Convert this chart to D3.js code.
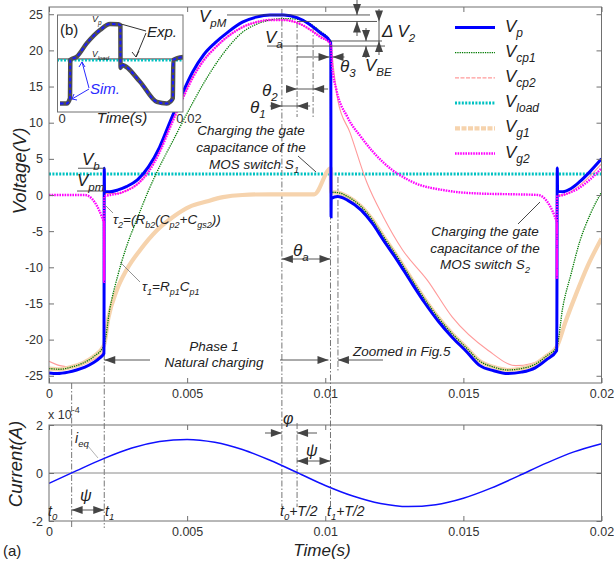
<!DOCTYPE html>
<html>
<head>
<meta charset="utf-8">
<script src="https://cdn.jsdelivr.net/npm/d3@7"></script>
<style>
  body { margin: 0; background: #fff; }
  svg { display: block; }
</style>
</head>
<body>
<div id="chart"></div>
<script>
// ---- values ----
const timeTicks = [0, 0.005, 0.01, 0.015, 0.02];
const voltTicks = [-25, -20, -15, -10, -5, 0, 5, 10, 15, 20, 25];
const currTicks = [-2, 0, 2];

// V_p
const tVp = [0, 0.0003, 0.0007, 0.001, 0.0013, 0.0016, 0.00185, 0.00199, 0.002, 0.00201, 0.0022, 0.0025, 0.0028, 0.0032, 0.0036, 0.004, 0.0044, 0.0048, 0.0052, 0.0056, 0.006, 0.0065, 0.007, 0.0075, 0.008, 0.0085, 0.009, 0.0094, 0.0098, 0.0102, 0.01021, 0.010215, 0.01045, 0.0108, 0.0113, 0.0117, 0.0121, 0.0126, 0.0131, 0.0136, 0.0141, 0.0146, 0.0151, 0.0156, 0.0161, 0.0166, 0.0171, 0.0176, 0.018, 0.01838, 0.0184, 0.01841, 0.0186, 0.0189, 0.0192, 0.0196, 0.02];
const vVp = [-24.6, -24.7, -24.5, -24.2, -23.8, -23.2, -22.5, -21.9, 3.7, 0.5, 0.45, 0.7, 1.15, 2.1, 3.9, 6.6, 10.3, 13.8, 17.0, 19.4, 21.0, 22.6, 23.9, 24.6, 24.9, 24.9, 24.5, 23.7, 22.5, 21.1, -3.0, -0.5, -0.2, -0.7, -2.1, -3.9, -6.2, -9.0, -12.0, -14.9, -17.5, -19.7, -21.6, -23.6, -24.3, -24.7, -24.5, -23.9, -22.8, -21.5, 3.75, 0.5, 0.46, 0.9, 1.8, 3.3, 5.0];

// V_cp1
const tCp1 = [0, 0.0004, 0.0008, 0.0012, 0.0016, 0.00199, 0.0022, 0.0025, 0.0028, 0.0032, 0.0036, 0.004, 0.0045, 0.005, 0.0055, 0.006, 0.0065, 0.007, 0.0075, 0.008, 0.0085, 0.009, 0.0094, 0.0098, 0.0102, 0.01022, 0.0105, 0.0108, 0.0113, 0.0117, 0.0121, 0.0126, 0.0131, 0.0136, 0.0141, 0.0146, 0.0151, 0.0156, 0.0161, 0.0166, 0.0171, 0.0176, 0.018, 0.01838, 0.0186, 0.0189, 0.0192, 0.0196, 0.02];
const vCp1 = [-24.0, -24.1, -23.8, -23.3, -22.4, -20.8, -15.8, -11.0, -7.2, -3.2, 0.6, 3.9, 7.6, 11.3, 14.8, 17.9, 20.5, 22.5, 23.6, 24.2, 24.4, 24.3, 23.8, 22.7, 21.2, 0.4, 0.3, -0.2, -1.6, -3.4, -5.7, -8.5, -11.5, -14.4, -17.0, -19.2, -21.1, -23.0, -23.8, -24.2, -24.0, -23.4, -22.3, -21.0, -15.5, -10.9, -6.6, -2.6, 0.4];

// V_cp2
const tCp2 = [0, 0.0004, 0.0008, 0.0012, 0.0016, 0.00199, 0.002, 0.0025, 0.0028, 0.0032, 0.0036, 0.004, 0.0044, 0.0048, 0.0052, 0.0056, 0.006, 0.0065, 0.007, 0.0075, 0.008, 0.0085, 0.009, 0.0094, 0.0098, 0.0102, 0.0103, 0.01045, 0.0109, 0.0115, 0.0121, 0.0128, 0.0137, 0.0146, 0.0159, 0.0169, 0.018, 0.01837, 0.01839, 0.0186, 0.0192, 0.02];
const vCp2 = [-23.0, -23.6, -23.8, -23.5, -22.8, -21.6, 0.2, 0.2, 0.6, 1.5, 3.3, 6.0, 9.6, 13.1, 16.3, 18.7, 20.3, 22.0, 23.2, 23.9, 24.2, 24.2, 23.8, 23.0, 22.0, 20.8, 17.5, 13.2, 8.6, 1.8, -3.0, -7.6, -11.8, -16.9, -21.5, -23.6, -22.5, -21.1, 0.0, 0.0, 1.3, 4.3];

// V_load
const tLoad = [0, 0.02];
const vLoad = [2.9, 2.9];

// V_g1
const tG1 = [0, 0.0004, 0.0008, 0.0012, 0.0016, 0.00199, 0.00215, 0.00245, 0.0028, 0.0033, 0.0039, 0.0045, 0.0051, 0.0057, 0.0063, 0.007, 0.008, 0.0096, 0.0102, 0.01021, 0.0105, 0.0108, 0.0113, 0.0117, 0.0121, 0.0126, 0.0131, 0.0136, 0.0141, 0.0146, 0.0151, 0.0156, 0.0161, 0.0166, 0.0171, 0.0176, 0.018, 0.01838, 0.0187, 0.0191, 0.0195, 0.02];
const vG1 = [-24.0, -24.1, -23.8, -23.3, -22.4, -20.8, -17.0, -13.2, -10.4, -7.6, -4.9, -3.0, -1.6, -0.9, -0.3, 0.0, 0.1, 0.1, 3.7, 0.4, 0.3, -0.2, -1.6, -3.4, -5.7, -8.5, -11.5, -14.4, -17.0, -19.2, -21.1, -23.0, -23.8, -24.2, -24.0, -23.4, -22.3, -21.0, -17.5, -13.5, -9.8, -6.0];

// V_g2
const tG2 = [0, 0.0013, 0.00199, 0.001995, 0.002, 0.0022, 0.0025, 0.0028, 0.0032, 0.0036, 0.004, 0.0044, 0.0048, 0.0052, 0.0056, 0.006, 0.0065, 0.007, 0.0075, 0.008, 0.0085, 0.009, 0.0094, 0.0098, 0.0102, 0.01025, 0.0104, 0.0108, 0.0113, 0.0121, 0.0131, 0.0144, 0.0156, 0.0168, 0.0177, 0.01838, 0.018385, 0.01839, 0.0186, 0.0189, 0.0192, 0.0196, 0.02];
const vG2 = [0, 0, -3.8, -12.0, -0.2, 0.0, 0.2, 0.6, 1.5, 3.2, 5.9, 9.5, 13.0, 16.2, 18.6, 20.3, 22.0, 23.2, 23.9, 24.2, 24.2, 23.8, 23.0, 21.9, 20.9, 17.8, 14.6, 10.8, 8.0, 4.5, 1.9, 0.6, 0.2, 0.1, 0.0, -3.7, -11.6, -0.2, 0.0, 0.4, 1.0, 2.2, 3.7];

// i_eq (x 1e-4 A)
const tCur = [0, 0.001, 0.002, 0.003, 0.004, 0.005, 0.006, 0.007, 0.008, 0.009, 0.01, 0.011, 0.012, 0.013, 0.014, 0.015, 0.016, 0.017, 0.018, 0.019, 0.02];
const iCur = [-0.43, 0.10, 0.61, 1.04, 1.31, 1.40, 1.28, 0.98, 0.53, 0.01, -0.52, -0.96, -1.27, -1.40, -1.32, -1.05, -0.63, -0.12, 0.41, 0.88, 1.22];

// inset (b): measured V_p vs simulation
const tInset = [0, 0.00107, 0.0016, 0.00165, 0.00267, 0.00427, 0.0064, 0.008, 0.0093, 0.00966, 0.00968, 0.0097, 0.00987, 0.0128, 0.0155, 0.0171, 0.0176, 0.01805, 0.01813, 0.0197];
const vInset = [-25, -25, -21.7, 2.4, 4.4, 12.8, 21.2, 25, 24.8, 24.0, 1.5, -2.6, -0.8, -11.3, -24.0, -25, -24, -21.7, 2.4, 4.2];
const insetLoad = [3.0, 2.2]; // exp, sim

const FONT = '"Liberation Sans", Arial, Helvetica, sans-serif';
const W = 614, H = 562;

const svg = d3.select('#chart').append('svg')
    .attr('width', W).attr('height', H)
    .style('font-family', FONT);
svg.append('rect').attr('width', W).attr('height', H).attr('fill', '#fff');

const x = d3.scaleLinear().domain([0, 0.02]).range([49, 601.5]);
const y = d3.scaleLinear().domain([-26, 26]).range([383, 7]);
const yc = d3.scaleLinear().domain([-2, 2]).range([521, 425]);

const frameCol = '#707070';
const annCol = '#444';

// clip for the voltage plot
svg.append('clipPath').attr('id', 'clipV')
    .append('rect').attr('x', 49).attr('y', 7).attr('width', 552.5).attr('height', 376);
svg.append('clipPath').attr('id', 'clipI')
    .append('rect').attr('x', 49).attr('y', 425).attr('width', 552.5).attr('height', 96);

// axes helper (MATLAB style box, ticks inward)
function boxAxes(sy, ticks) {
    const [yb, yt] = sy.range();
    const style = g => {
        g.select('.domain').remove();
        g.selectAll('line').attr('stroke', frameCol);
        g.attr('font-size', 12.5).attr('font-family', FONT);
        g.selectAll('text').attr('fill', '#333');
    };
    svg.append('g').attr('transform', `translate(0,${yb})`)
        .call(d3.axisBottom(x).tickValues(timeTicks).tickSize(-5).tickPadding(6).tickFormat(d => d))
        .call(style);
    svg.append('g').attr('transform', `translate(0,${yt})`)
        .call(d3.axisTop(x).tickValues(timeTicks).tickSize(-5).tickFormat(''))
        .call(style);
    svg.append('g').attr('transform', `translate(${x.range()[0]},0)`)
        .call(d3.axisLeft(sy).tickValues(ticks).tickSize(-5).tickPadding(6).tickFormat(d => d))
        .call(style);
    svg.append('g').attr('transform', `translate(${x.range()[1]},0)`)
        .call(d3.axisRight(sy).tickValues(ticks).tickSize(-5).tickFormat(''))
        .call(style);
    svg.append('rect')
        .attr('x', x.range()[0]).attr('y', yt)
        .attr('width', x.range()[1] - x.range()[0]).attr('height', yb - yt)
        .attr('fill', 'none').attr('stroke', frameCol).attr('stroke-width', 1);
}

// rich text with sub/superscripts
function rich(g, px, py, parts, size, opts = {}) {
    const t = g.append('text')
        .attr('x', px).attr('y', py)
        .attr('font-size', size)
        .attr('font-style', opts.italic === false ? 'normal' : 'italic')
        .attr('text-anchor', opts.anchor || 'start')
        .attr('fill', opts.fill || '#222');
    let shift = 0;
    const subSize = opts.sub || size * 0.68;
    parts.forEach(p => {
        if (typeof p === 'string') {
            t.append('tspan').attr('dy', -shift).text(p);
            shift = 0;
        } else if (p.sub !== undefined) {
            const d = size * 0.3;
            t.append('tspan').attr('dy', d - shift).attr('font-size', subSize).text(p.sub);
            shift = d;
        } else if (p.sup !== undefined) {
            const d = -size * 0.45;
            t.append('tspan').attr('dy', d - shift).attr('font-size', subSize).text(p.sup);
            shift = d;
        }
    });
    return t;
}

const zipP = (ts, vs) => d3.zip(ts, vs);
const lineV = d3.line().x(d => x(d[0])).y(d => y(d[1])).curve(d3.curveMonotoneX);

const seriesList = [
    { key: 'load', t: tLoad, v: vLoad, color: '#00c2c2', width: 3, dash: '2 1.4', legDash: '2 1.4' },
    { key: 'cp2', t: tCp2, v: vCp2, color: '#ff9a9a', width: 1.1, dash: null, legDash: '4 1.5' },
    { key: 'g1', t: tG1, v: vG1, color: '#f6d3ad', width: 4.2, dash: null, legDash: '5 1.5' },
    { key: 'cp1', t: tCp1, v: vCp1, color: '#007a00', width: 1.3, dash: '1.3 1', legDash: '1.3 1' },
    { key: 'p', t: tVp, v: vVp, color: '#0000ff', width: 3, dash: null, legDash: null },
    { key: 'g2', t: tG2, v: vG2, color: '#ff00ff', width: 2.4, dash: '1.6 1', legDash: '1.6 1' }
];

// dash-dot guide lines (under the curves)
const guides = svg.append('g');
function vdash(t, y1, y2) {
    guides.append('line')
        .attr('x1', x(t)).attr('x2', x(t)).attr('y1', y1).attr('y2', y2)
        .attr('stroke', '#666').attr('stroke-width', 0.9)
        .attr('stroke-dasharray', '6 2 1.5 2');
}
vdash(0.00082, 383, 528);
vdash(0.002, 354, 528);
vdash(0.00843, 9, 507);
vdash(0.00898, 22, 117);
vdash(0.00898, 423, 507);
vdash(0.00956, 27, 117);
vdash(0.01019, 41, 507);
vdash(0.01046, 177, 372);

const plotV = svg.append('g').attr('clip-path', 'url(#clipV)');
seriesList.forEach(s => {
    plotV.append('path')
        .datum(zipP(s.t, s.v))
        .attr('fill', 'none')
        .attr('stroke', s.color)
        .attr('stroke-width', s.width)
        .attr('stroke-dasharray', s.dash)
        .attr('d', lineV);
});

boxAxes(y, voltTicks);

// current plot
const plotI = svg.append('g').attr('clip-path', 'url(#clipI)');
plotI.append('line')
    .attr('x1', x(0)).attr('x2', x(0.02)).attr('y1', yc(0)).attr('y2', yc(0))
    .attr('stroke', '#8a8a8a').attr('stroke-width', 1);
plotI.append('path')
    .datum(zipP(tCur, iCur))
    .attr('fill', 'none').attr('stroke', '#1010ff').attr('stroke-width', 1.5)
    .attr('d', d3.line().x(d => x(d[0])).y(d => yc(d[1])).curve(d3.curveMonotoneX));
boxAxes(yc, currTicks);

// axis titles
svg.append('text').attr('transform', 'translate(26,171) rotate(-90)')
    .attr('text-anchor', 'middle').attr('font-size', 18.5).attr('font-style', 'italic')
    .attr('fill', '#222').text('Voltage(V)');
svg.append('text').attr('transform', 'translate(22,464) rotate(-90)')
    .attr('text-anchor', 'middle').attr('font-size', 18.5).attr('font-style', 'italic')
    .attr('fill', '#222').text('Current(A)');
svg.append('text').attr('x', 322).attr('y', 556)
    .attr('text-anchor', 'middle').attr('font-size', 17).attr('font-style', 'italic')
    .attr('fill', '#222').text('Time(s)');
svg.append('text').attr('x', 3).attr('y', 556)
    .attr('font-size', 15).attr('fill', '#222').text('(a)');
rich(svg, 48, 419, ['x 10', { sup: '-4' }], 12.5, { italic: false, fill: '#333', sub: 9 });

// legend
const legend = svg.append('g');
const legendOrder = ['p', 'cp1', 'cp2', 'load', 'g1', 'g2'];
legendOrder.forEach((k, i) => {
    const s = seriesList.find(d => d.key === k);
    const ly = 27.5 + i * 25.2;
    legend.append('line')
        .attr('x1', 455).attr('x2', 495).attr('y1', ly).attr('y2', ly)
        .attr('stroke', s.color).attr('stroke-width', s.width)
        .attr('stroke-dasharray', s.legDash);
    rich(legend, 505, ly + 4, ['V', { sub: k }], 17, { sub: 12 });
});

// annotations
const ann = svg.append('g');
function seg(x1, y1, x2, y2, col) {
    ann.append('line').attr('x1', x1).attr('y1', y1).attr('x2', x2).attr('y2', y2)
        .attr('stroke', col || annCol).attr('stroke-width', 0.9);
}
function head(px, py, dir, col) {
    const L = 11, Wd = 4;
    let pts;
    if (dir === 'r') pts = [[px, py], [px - L, py - Wd], [px - L, py + Wd]];
    if (dir === 'l') pts = [[px, py], [px + L, py - Wd], [px + L, py + Wd]];
    if (dir === 'd') pts = [[px, py], [px - Wd, py - L], [px + Wd, py - L]];
    if (dir === 'u') pts = [[px, py], [px - Wd, py + L], [px + Wd, py + L]];
    ann.append('path').attr('d', d3.line()(pts) + 'Z').attr('fill', col || annCol);
}

// level lines
seg(227, y(24.9), 370, y(24.9));
seg(x(0.00898), y(24.0), 377, y(24.0));
seg(330, y(21.3), 382, y(21.3));
seg(267, y(20.6), 385, y(20.6));
seg(78, y(3.7), 105, y(3.7));
seg(77, y(0.55), 105, y(0.55));

// vertical dimension arrows (top right)
seg(357, 0, 357, y(24.9)); head(357, y(24.9), 'd');
seg(357, y(24.0), 357, 36); head(357, y(24.0), 'u');
seg(366, 28, 366, y(21.3)); head(366, y(21.3), 'd');
seg(366, y(20.6), 366, 58); head(366, y(20.6), 'u');
seg(379, 9, 379, 55); head(379, y(24.0), 'd'); head(379, y(21.3), 'u');

// theta markers
const xa = x(0.00843), xb = x(0.00898), xc = x(0.00956), xd = x(0.01019);
seg(xb, 57, xd - 1, 57); head(xd - 1, 57, 'r');
seg(xd + 2, 57, xd + 14, 57); head(xd + 2, 57, 'l');
seg(xb - 11, 89, xc + 15, 89); head(xb, 89, 'r'); head(xc, 89, 'l');
seg(xa - 12, 106, xb + 13, 106); head(xa, 106, 'r'); head(xb, 106, 'l');
seg(xa, 259, xd, 259); head(xa, 259, 'l'); head(xd, 259, 'r');

// phase 1 / zoomed arrows
seg(x(0.002), 360, 150, 360); head(x(0.002), 360, 'l');
seg(280, 360, xd - 2, 360); head(xd - 2, 360, 'r');
seg(383, 360, x(0.01046), 360); head(x(0.01046), 360, 'l');

// current plot arrows
seg(265, 433, xa, 433); head(xa, 433, 'r');
seg(317, 433, xb, 433); head(xb, 433, 'l');
seg(xb, 461, xd, 461); head(xb, 461, 'l'); head(xd, 461, 'r');
seg(x(0.00082), 510, x(0.002), 510); head(x(0.00082), 510, 'l'); head(x(0.002), 510, 'r');

// leader lines
seg(113, 213, 105, 205, '#888');
seg(140, 282, 120, 262, '#888');
seg(298, 156, 316, 172, '#333');
seg(518, 224, 540, 202, '#333');
seg(88, 446, 98, 458, '#aaa');

// labels
rich(ann, 199, 22, ['V', { sub: 'pM' }], 17, { sub: 11.5 });
rich(ann, 265, 43, ['V', { sub: 'a' }], 17, { sub: 11.5 });
rich(ann, 340, 72, ['θ', { sub: '3' }], 17, { sub: 11.5 });
rich(ann, 262, 96, ['θ', { sub: '2' }], 17, { sub: 11.5 });
rich(ann, 250, 113, ['θ', { sub: '1' }], 17, { sub: 11.5 });
rich(ann, 382, 37, ['Δ ', 'V', { sub: '2' }], 17, { sub: 11.5 });
rich(ann, 365, 71, ['V', { sub: 'BE' }], 17, { sub: 11.5 });
rich(ann, 82, 165, ['V', { sub: 'b' }], 17, { sub: 11.5 });
rich(ann, 77, 186, ['V', { sub: 'pm' }], 17, { sub: 11.5 });
rich(ann, 293, 256, ['θ', { sub: 'a' }], 17, { sub: 11.5 });
rich(ann, 113, 224, ['τ', { sub: '2' }, '=(R', { sub: 'b2' }, '(C', { sub: 'p2' }, '+C', { sub: 'gs2' }, '))'], 13.5, { sub: 9 });
rich(ann, 142, 291, ['τ', { sub: '1' }, '=R', { sub: 'p1' }, 'C', { sub: 'p1' }], 13.5, { sub: 9 });
rich(ann, 251, 135, ['Charging the gate'], 13.5, { anchor: 'middle' });
rich(ann, 251, 152, ['capacitance of the'], 13.5, { anchor: 'middle' });
rich(ann, 254, 169, ['MOS switch S', { sub: '1' }], 13.5, { anchor: 'middle', sub: 9 });
rich(ann, 485, 236, ['Charging the gate'], 13.5, { anchor: 'middle' });
rich(ann, 485, 253, ['capacitance of the'], 13.5, { anchor: 'middle' });
rich(ann, 485, 269, ['MOS switch S', { sub: '2' }], 13.5, { anchor: 'middle', sub: 9 });
rich(ann, 214, 351, ['Phase 1'], 13.5, { anchor: 'middle' });
rich(ann, 214, 367, ['Natural charging'], 13.5, { anchor: 'middle' });
rich(ann, 353, 356, ['Zoomed in Fig.5'], 13.5);
rich(ann, 283, 424, ['φ'], 16);
rich(ann, 306, 456, ['ψ'], 16);
rich(ann, 80, 501, ['ψ'], 16);
rich(ann, 75, 443, ['i', { sub: 'eq' }], 14, { sub: 9.5 });
rich(ann, 48, 516, ['t', { sub: '0' }], 14, { sub: 9.5 });
rich(ann, 105, 516, ['t', { sub: '1' }], 14, { sub: 9.5 });
rich(ann, 280, 516, ['t', { sub: '0' }, '+T/2'], 14, { sub: 9.5 });
rich(ann, 327, 516, ['t', { sub: '1' }, '+T/2'], 14, { sub: 9.5 });

// ---- inset (b) ----
const ix = d3.scaleLinear().domain([0, 0.02]).range([60, 185]);
const iy = d3.scaleLinear().domain([-25, 25]).range([103.5, 24]);
const inset = svg.append('g');
inset.append('clipPath').attr('id', 'clipB')
    .append('rect').attr('x', 57.5).attr('y', 15).attr('width', 125.5).attr('height', 97);
inset.append('rect').attr('x', 57.5).attr('y', 15).attr('width', 125.5).attr('height', 97)
    .attr('fill', '#fff');
const ib = inset.append('g').attr('clip-path', 'url(#clipB)');
ib.append('line').attr('x1', 57).attr('x2', 184).attr('y1', iy(insetLoad[0])).attr('y2', iy(insetLoad[0]))
    .attr('stroke', '#333').attr('stroke-width', 1);
ib.append('line').attr('x1', 57).attr('x2', 184).attr('y1', iy(insetLoad[1])).attr('y2', iy(insetLoad[1]))
    .attr('stroke', '#00c2c2').attr('stroke-width', 2.5).attr('stroke-dasharray', '2 1.5');
const insetLine = d3.line().x(d => ix(d[0])).y(d => iy(d[1])).curve(d3.curveMonotoneX);
ib.append('path').datum(zipP(tInset, vInset))
    .attr('fill', 'none').attr('stroke', '#505050').attr('stroke-width', 4.5)
    .attr('d', insetLine);
ib.append('path').datum(zipP(tInset, vInset))
    .attr('fill', 'none').attr('stroke', '#1a1aff').attr('stroke-width', 2)
    .attr('stroke-dasharray', '3.5 2.5')
    .attr('d', insetLine);
inset.append('rect').attr('x', 57.5).attr('y', 15).attr('width', 125.5).attr('height', 97)
    .attr('fill', 'none').attr('stroke', frameCol);
rich(inset, 60, 35, ['(b)'], 15, { italic: false });
rich(inset, 92, 22, ['V', { sub: 'p' }], 9, { sub: 6.5 });
rich(inset, 92, 57, ['V', { sub: 'load' }], 8.5, { sub: 6 });
rich(inset, 147, 37, ['Exp.'], 15);
rich(inset, 90, 94, ['Sim.'], 15, { fill: '#2a2aff' });
rich(inset, 62, 123, ['0'], 13, { italic: false, anchor: 'middle', fill: '#333' });
rich(inset, 189, 123, ['0.02'], 13, { italic: false, anchor: 'middle', fill: '#333' });
rich(inset, 122, 123, ['Time(s)'], 15, { anchor: 'middle' });
// inset pointers
inset.append('line').attr('x1', 146).attr('y1', 31).attr('x2', 121).attr('y2', 24).attr('stroke', '#333');
inset.append('line').attr('x1', 146).attr('y1', 33).attr('x2', 136).attr('y2', 57).attr('stroke', '#333');
inset.append('path').attr('d', 'M132,52 L136,57 L139,51').attr('fill', 'none').attr('stroke', '#333');
inset.append('line').attr('x1', 89).attr('y1', 88).attr('x2', 82).attr('y2', 62).attr('stroke', '#2a2aff');
inset.append('path').attr('d', 'M79,67 L82,62 L85,67').attr('fill', 'none').attr('stroke', '#2a2aff');
inset.append('line').attr('x1', 89).attr('y1', 89).attr('x2', 72).attr('y2', 99).attr('stroke', '#2a2aff');
inset.append('path').attr('d', 'M74,94 L72,99 L77,100').attr('fill', 'none').attr('stroke', '#2a2aff');
</script>
</body>
</html>
